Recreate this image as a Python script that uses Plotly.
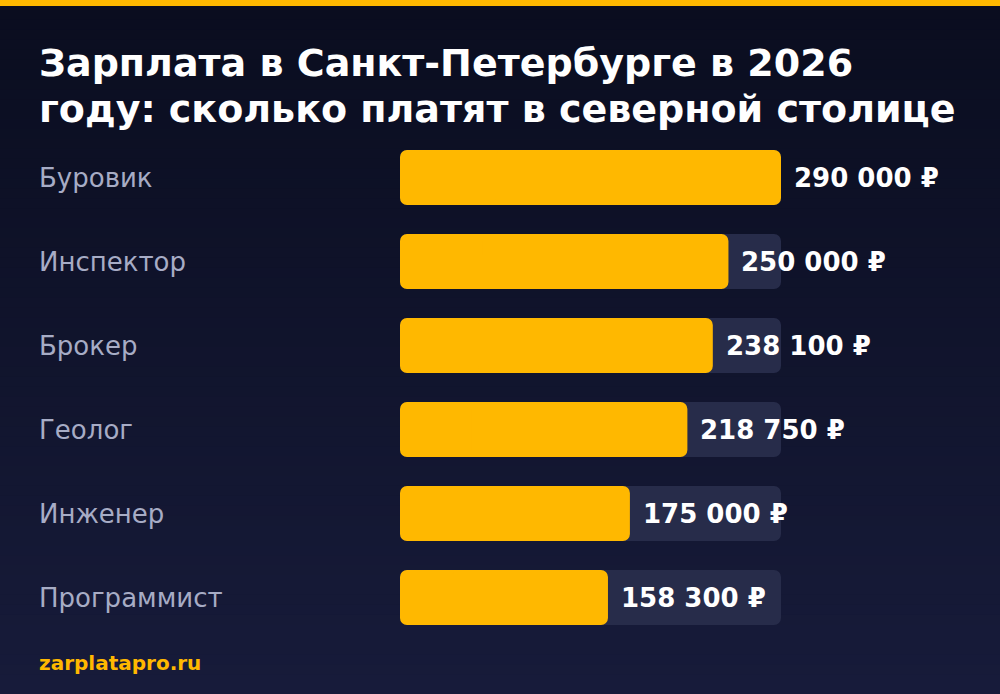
import plotly.graph_objects as go

# ---- data ----
categories = ["Буровик", "Инспектор", "Брокер", "Геолог", "Инженер", "Программист"]
salaries = [290000, 250000, 238100, 218750, 175000, 158300]
value_labels = ["290 000 ₽", "250 000 ₽", "238 100 ₽", "218 750 ₽", "175 000 ₽", "158 300 ₽"]
title_lines = ["Зарплата в Санкт-Петербурге в 2026", "году: сколько платят в северной столице"]
footer_text = "zarplatapro.ru"

# ---- style ----
W, H = 1000, 694
ORANGE = "#FFB800"
TRACK = "#272c4a"
LABEL = "#a7acc5"
FONT = "DejaVu Sans"
TOP_BG = (10, 13, 31)
BOT_BG = (23, 27, 58)
BAR_W = 0.655

track_max = max(salaries)
tracks = [track_max] * len(categories)


def rounded_bar(values, color, hover=True):
    """Two overlapping part-bars so that both ends get rounded corners."""
    left_end = [v * 0.75 for v in values]   # left piece: 0 .. 0.75v (rounded at 0)
    right_start = [v * 0.25 for v in values]  # right piece: 0.25v .. v (rounded at v)
    right = go.Bar(y=categories, x=[v - s for v, s in zip(values, right_start)], base=right_start,
                   orientation="h", marker=dict(color=color, line=dict(width=0)), width=BAR_W,
                   showlegend=False,
                   hoverinfo="y+text" if hover else "skip",
                   text=[f"{v:,}".replace(",", " ") + " ₽" for v in values], textposition="none")
    left = go.Bar(y=categories, x=[-e for e in left_end], base=left_end, orientation="h",
                  marker=dict(color=color, line=dict(width=0)), width=BAR_W,
                  showlegend=False, hoverinfo="skip")
    return [left, right]


fig = go.Figure()
for tr in rounded_bar(tracks, TRACK, hover=False):
    fig.add_trace(tr)
for tr in rounded_bar(salaries, ORANGE):
    fig.add_trace(tr)

shapes = []
n_bands = 70
for i in range(n_bands):
    t = i / (n_bands - 1)
    r = round(TOP_BG[0] + (BOT_BG[0] - TOP_BG[0]) * t)
    g = round(TOP_BG[1] + (BOT_BG[1] - TOP_BG[1]) * t)
    b = round(TOP_BG[2] + (BOT_BG[2] - TOP_BG[2]) * t)
    y1 = 1 - i / n_bands
    y0 = 1 - (i + 1) / n_bands - 0.002
    shapes.append(dict(type="rect", xref="paper", yref="paper", x0=0, x1=1,
                       y0=max(y0, 0), y1=y1, fillcolor=f"rgb({r},{g},{b})",
                       line=dict(width=0), layer="below"))
# top stripe
shapes.append(dict(type="rect", xref="paper", yref="paper", x0=0, x1=1,
                   y0=1 - 6 / H, y1=1, fillcolor=ORANGE, line=dict(width=0), layer="above"))

annotations = []
for cat in categories:
    annotations.append(dict(x=40 / W, xref="paper", y=cat, yref="y", text=cat,
                            xanchor="left", yanchor="middle", xshift=-3, showarrow=False,
                            font=dict(family=FONT, size=26, color=LABEL)))
for cat, v, lbl in zip(categories, salaries, value_labels):
    annotations.append(dict(x=v, xref="x", y=cat, yref="y", text=f"<b>{lbl}</b>",
                            xanchor="left", yanchor="middle", xshift=11, showarrow=False,
                            font=dict(family=FONT, size=26, color="#ffffff")))
for i, line in enumerate(title_lines):
    annotations.append(dict(x=40 / W, xref="paper", y=1 - (63 + 46 * i) / H, yref="paper",
                            text=f"<b>{line}</b>", xanchor="left", yanchor="middle", xshift=-3,
                            showarrow=False, font=dict(family=FONT, size=38, color="#ffffff")))
annotations.append(dict(x=40 / W, xref="paper", y=1 - 663 / H, yref="paper",
                        text=f"<b>{footer_text}</b>", xanchor="left", yanchor="middle", xshift=-3,
                        showarrow=False, font=dict(family=FONT, size=20, color=ORANGE)))

fig.update_layout(
    width=W, height=H,
    margin=dict(l=0, r=0, t=0, b=0),
    paper_bgcolor="rgb(16,19,44)", plot_bgcolor="rgba(0,0,0,0)",
    barmode="overlay", barcornerradius=7,
    xaxis=dict(domain=[0.4, 0.781], range=[0, track_max], visible=False, fixedrange=True),
    yaxis=dict(domain=[54.5 / H, 558.5 / H], range=[5.5, -0.5], visible=False,
               categoryorder="array", categoryarray=categories, fixedrange=True),
    shapes=shapes, annotations=annotations,
    font=dict(family=FONT),
)

fig.write_html("out.html", config={"displayModeBar": False},
               post_script="document.body.style.margin='0';document.body.style.background='rgb(16,19,44)';")
